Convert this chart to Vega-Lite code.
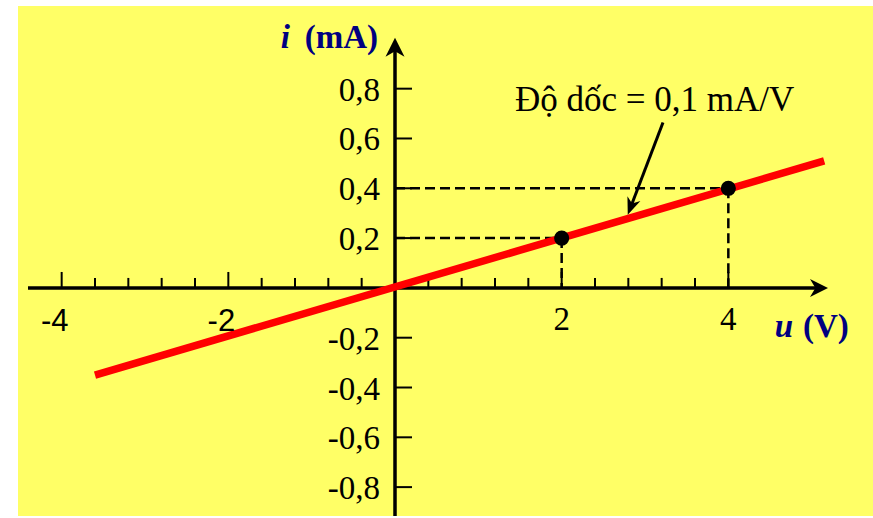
{
  "$schema": "https://vega.github.io/schema/vega-lite/v6.json",
  "width": 873,
  "height": 518,
  "autosize": {"type": "fit", "contains": "padding"},
  "padding": {"left": 18, "top": 6, "right": 0, "bottom": 0},
  "background": "white",
  "config": {"view": {"fill": "#FFFF66", "stroke": null}},
  "encoding": {
    "x": {"field": "x", "type": "quantitative", "scale": {"domain": [-4.524, 5.736], "nice": false, "zero": false}, "axis": null},
    "y": {"field": "y", "type": "quantitative", "scale": {"domain": [-0.916, 1.132], "nice": false, "zero": false}, "axis": null}
  },
  "layer": [
    {
      "data": {"values": [
        {"x": -4.404, "y": 0, "x2": 5.09, "y2": 0},
        {"x": 0, "y": -0.916, "x2": 0, "y2": 0.966}
      ]},
      "mark": {"type": "rule", "stroke": "black", "strokeWidth": 3.5},
      "encoding": {"x2": {"field": "x2"}, "y2": {"field": "y2"}}
    },
    {
      "data": {"values": [
        {"x": -4, "y": 0, "x2": -4, "y2": 0.064},
        {"x": -3.6, "y": 0, "x2": -3.6, "y2": 0.04},
        {"x": -3.2, "y": 0, "x2": -3.2, "y2": 0.04},
        {"x": -2.8, "y": 0, "x2": -2.8, "y2": 0.04},
        {"x": -2.4, "y": 0, "x2": -2.4, "y2": 0.04},
        {"x": -2, "y": 0, "x2": -2, "y2": 0.064},
        {"x": -1.6, "y": 0, "x2": -1.6, "y2": 0.04},
        {"x": -1.2, "y": 0, "x2": -1.2, "y2": 0.04},
        {"x": -0.8, "y": 0, "x2": -0.8, "y2": 0.04},
        {"x": -0.4, "y": 0, "x2": -0.4, "y2": 0.04},
        {"x": 0.4, "y": 0, "x2": 0.4, "y2": 0.04},
        {"x": 0.8, "y": 0, "x2": 0.8, "y2": 0.04},
        {"x": 1.2, "y": 0, "x2": 1.2, "y2": 0.04},
        {"x": 1.6, "y": 0, "x2": 1.6, "y2": 0.04},
        {"x": 2, "y": 0, "x2": 2, "y2": 0.064},
        {"x": 2.4, "y": 0, "x2": 2.4, "y2": 0.04},
        {"x": 2.8, "y": 0, "x2": 2.8, "y2": 0.04},
        {"x": 3.2, "y": 0, "x2": 3.2, "y2": 0.04},
        {"x": 3.6, "y": 0, "x2": 3.6, "y2": 0.04},
        {"x": 4, "y": 0, "x2": 4, "y2": 0.064},
        {"x": 0, "y": 0.8, "x2": 0.204, "y2": 0.8},
        {"x": 0, "y": 0.6, "x2": 0.204, "y2": 0.6},
        {"x": 0, "y": 0.4, "x2": 0.204, "y2": 0.4},
        {"x": 0, "y": 0.2, "x2": 0.204, "y2": 0.2},
        {"x": 0, "y": -0.2, "x2": 0.204, "y2": -0.2},
        {"x": 0, "y": -0.4, "x2": 0.204, "y2": -0.4},
        {"x": 0, "y": -0.6, "x2": 0.204, "y2": -0.6},
        {"x": 0, "y": -0.8, "x2": 0.204, "y2": -0.8}
      ]},
      "mark": {"type": "rule", "stroke": "black", "strokeWidth": 2},
      "encoding": {"x2": {"field": "x2"}, "y2": {"field": "y2"}}
    },
    {
      "data": {"values": [
        {"x": 0, "y": 0.2, "x2": 2, "y2": 0.2},
        {"x": 0, "y": 0.4, "x2": 4, "y2": 0.4},
        {"x": 2, "y": 0.2, "x2": 2, "y2": 0},
        {"x": 4, "y": 0.4, "x2": 4, "y2": 0}
      ]},
      "mark": {"type": "rule", "stroke": "black", "strokeWidth": 2.5, "strokeDash": [10, 5]},
      "encoding": {"x2": {"field": "x2"}, "y2": {"field": "y2"}}
    },
    {
      "data": {"values": [
        {"x": -3.6, "y": -0.35},
        {"x": 5.15, "y": 0.51}
      ]},
      "mark": {"type": "line", "stroke": "#FF0000", "strokeWidth": 7.5},
      "encoding": {}
    },
    {
      "data": {"values": [
        {"x": 2, "y": 0.2},
        {"x": 4, "y": 0.4}
      ]},
      "mark": {"type": "point", "filled": true, "fill": "black", "stroke": null, "size": 230, "opacity": 1},
      "encoding": {}
    },
    {
      "data": {"values": [
        {"x": 3.216, "y": 0.664, "x2": 2.83, "y2": 0.326}
      ]},
      "mark": {"type": "rule", "stroke": "black", "strokeWidth": 3},
      "encoding": {"x2": {"field": "x2"}, "y2": {"field": "y2"}}
    },
    {
      "data": {"values": [{"x": 2.83, "y": 0.326}]},
      "mark": {"type": "point", "shape": "M 1 0 L -1 -0.8 L -0.4 0 L -1 0.8 Z", "filled": true, "fill": "black", "stroke": null, "size": 300, "angle": 110.8, "opacity": 1},
      "encoding": {}
    },
    {
      "data": {"values": [{"x": 5.088, "y": 0}]},
      "mark": {"type": "point", "shape": "M 1 0 L -1 -1 L -0.4 0 L -1 1 Z", "filled": true, "fill": "black", "stroke": null, "size": 324, "angle": 0, "opacity": 1},
      "encoding": {}
    },
    {
      "data": {"values": [{"x": 0, "y": 0.966}]},
      "mark": {"type": "point", "shape": "M 1 0 L -1 -1 L -0.4 0 L -1 1 Z", "filled": true, "fill": "black", "stroke": null, "size": 361, "angle": 270, "opacity": 1},
      "encoding": {}
    },
    {
      "data": {"values": [
        {"x": 0, "y": 0.8, "label": "0,8"},
        {"x": 0, "y": 0.6, "label": "0,6"},
        {"x": 0, "y": 0.4, "label": "0,4"},
        {"x": 0, "y": 0.2, "label": "0,2"},
        {"x": 0, "y": -0.2, "label": "-0,2"},
        {"x": 0, "y": -0.4, "label": "-0,4"},
        {"x": 0, "y": -0.6, "label": "-0,6"},
        {"x": 0, "y": -0.8, "label": "-0,8"}
      ]},
      "mark": {"type": "text", "align": "right", "baseline": "middle", "dx": -15, "dy": 2, "font": "Liberation Serif", "fontSize": 33, "fill": "black"},
      "encoding": {"text": {"field": "label"}}
    },
    {
      "data": {"values": [
        {"x": 2, "y": 0, "label": "2"},
        {"x": 4, "y": 0, "label": "4"}
      ]},
      "mark": {"type": "text", "align": "center", "baseline": "alphabetic", "dy": 42, "font": "Liberation Serif", "fontSize": 33, "fill": "black"},
      "encoding": {"text": {"field": "label"}}
    },
    {
      "data": {"values": [
        {"x": -4, "y": 0, "label": "-4"},
        {"x": -2, "y": 0, "label": "-2"}
      ]},
      "mark": {"type": "text", "align": "center", "baseline": "alphabetic", "dx": -7, "dy": 43, "font": "Liberation Sans", "fontSize": 31, "fill": "black"},
      "encoding": {"text": {"field": "label"}}
    },
    {
      "data": {"values": [{"x": 0, "y": 0.964, "label": "(mA)"}]},
      "mark": {"type": "text", "align": "right", "baseline": "alphabetic", "dx": -17, "font": "Liberation Serif", "fontSize": 33, "fontWeight": "bold", "fill": "#000080"},
      "encoding": {"text": {"field": "label"}}
    },
    {
      "data": {"values": [{"x": 0, "y": 0.964, "label": "i"}]},
      "mark": {"type": "text", "align": "right", "baseline": "alphabetic", "dx": -105, "font": "Liberation Serif", "fontSize": 33, "fontWeight": "bold", "fontStyle": "italic", "fill": "#000080"},
      "encoding": {"text": {"field": "label"}}
    },
    {
      "data": {"values": [{"x": 4.776, "y": -0.196, "label": "u"}]},
      "mark": {"type": "text", "align": "right", "baseline": "alphabetic", "font": "Liberation Serif", "fontSize": 33, "fontWeight": "bold", "fontStyle": "italic", "fill": "#000080"},
      "encoding": {"text": {"field": "label"}}
    },
    {
      "data": {"values": [{"x": 4.896, "y": -0.196, "label": "(V)"}]},
      "mark": {"type": "text", "align": "left", "baseline": "alphabetic", "font": "Liberation Serif", "fontSize": 33, "fontWeight": "bold", "fill": "#000080"},
      "encoding": {"text": {"field": "label"}}
    },
    {
      "data": {"values": [{"x": 1.44, "y": 0.712, "label": "Độ dốc = 0,1 mA/V"}]},
      "mark": {"type": "text", "align": "left", "baseline": "alphabetic", "font": "Liberation Serif", "fontSize": 35, "fill": "black"},
      "encoding": {"text": {"field": "label"}}
    }
  ]
}
